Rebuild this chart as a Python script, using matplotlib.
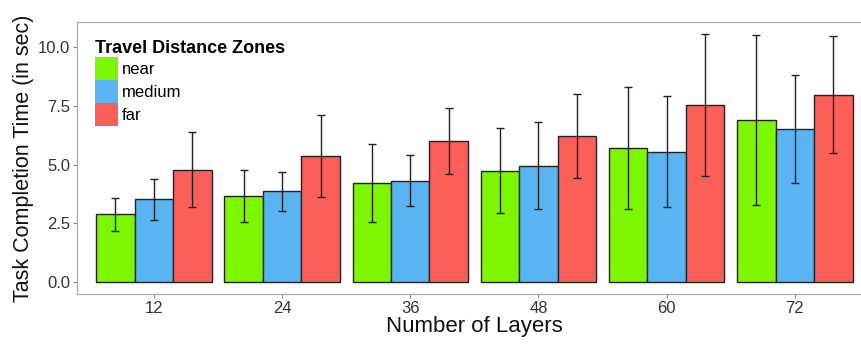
import matplotlib
matplotlib.use("Agg")
import matplotlib.pyplot as plt
import matplotlib.patches as mpatches
import numpy as np

plt.rcParams['font.family'] = ['Liberation Sans', 'DejaVu Sans']

layers = ["12", "24", "36", "48", "60", "72"]
zones = ["near", "medium", "far"]

near_mean = [2.88, 3.68, 4.20, 4.73, 5.72, 6.90]
medium_mean = [3.52, 3.86, 4.32, 4.96, 5.55, 6.53]
far_mean = [4.78, 5.35, 6.01, 6.21, 7.53, 7.97]

near_sd = [0.71, 1.11, 1.66, 1.81, 2.59, 3.61]
medium_sd = [0.88, 0.82, 1.08, 1.85, 2.35, 2.30]
far_sd = [1.60, 1.75, 1.42, 1.78, 3.03, 2.49]

zone_colors = ["#7CF700", "#5AB4F2", "#FA5F5A"]

fig = plt.figure(figsize=(8.62, 3.44), dpi=100)
ax = fig.add_axes([0.0893, 0.1453, 0.922, 0.7907])

x = np.arange(1, len(layers) + 1)
dodge = 0.9
bw = dodge / 3
means = [near_mean, medium_mean, far_mean]
sds = [near_sd, medium_sd, far_sd]
for i, (m, s, c) in enumerate(zip(means, sds, zone_colors)):
    pos = x + (i - 1) * bw
    ax.bar(pos, m, width=bw, color=c, edgecolor="#222222", linewidth=1.0, zorder=2)
    ax.errorbar(pos, m, yerr=s, fmt="none", ecolor="#222222", elinewidth=1.0,
                capsize=2.6, capthick=1.0, zorder=3)

ax.set_xlim(0.4, 6.6)
ax.set_ylim(-0.51, 11.07)
ax.set_xticks(x)
ax.set_xticklabels(layers)
ax.set_yticks([0, 2.5, 5.0, 7.5, 10.0])
ax.set_yticklabels(["0.0", "2.5", "5.0", "7.5", "10.0"])
ax.tick_params(axis="both", colors="#888888", length=3, width=0.8,
               labelcolor="#333333", labelsize=12)
ax.tick_params(axis="x", pad=2)
ax.tick_params(axis="y", pad=2)
for sp in ax.spines.values():
    sp.set_color("#AAAAAA")
    sp.set_linewidth(0.9)
ax.spines["right"].set_visible(False)

ax.set_xlabel("Number of Layers", fontsize=16, color="#111111", labelpad=0)
ax.set_ylabel("Task Completion Time (in sec)", fontsize=15.5, color="#111111", labelpad=3)

handles = [mpatches.Patch(facecolor=c, edgecolor="none", label=z)
           for c, z in zip(zone_colors, zones)]
leg = ax.legend(handles=handles, title="Travel Distance Zones", loc="upper left",
                bbox_to_anchor=(0.012, 0.965), frameon=False, fontsize=12,
                title_fontproperties={"weight": "bold", "size": 13},
                handlelength=1.4, handleheight=1.75, labelspacing=0.0,
                handletextpad=0.2, borderpad=0.0, alignment="left")

fig.savefig("out.png", dpi=100)
